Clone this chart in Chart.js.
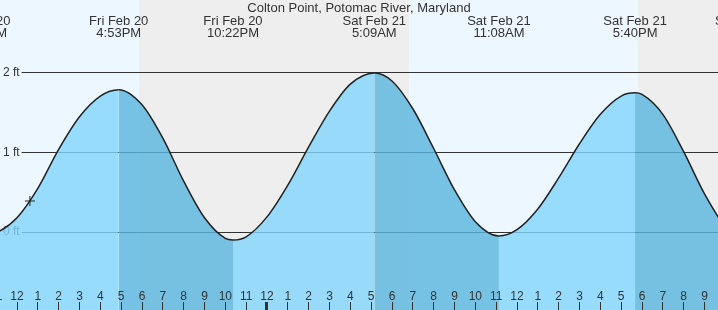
<!DOCTYPE html>
<html><head><meta charset="utf-8">
<script src="https://cdn.jsdelivr.net/npm/chart.js@4"></script>
<style>html,body{margin:0;padding:0;background:#EDF7FF}canvas{display:block}</style>
</head><body>
<canvas id="c" width="718" height="310"></canvas>
<script>
// Hours counted from Fri Feb 20 00:00
const chartTitle = 'Colton Point, Potomac River, Maryland';
const tideHours = [10.27, 11, 12, 13, 14, 15, 16, 16.883, 18, 19, 20, 21, 22, 22.367, 23, 24, 25, 26, 27, 28, 29.15, 30, 31, 32, 33, 34, 35.133, 36, 37, 38, 39, 40, 41, 41.667, 42, 43, 44, 45, 46, 47.033];
const tideFeet  = [-0.05, -0.01, 0.18, 0.55, 1.04, 1.45, 1.71, 1.79, 1.60, 1.18, 0.64, 0.18, -0.08, -0.10, -0.06, 0.19, 0.59, 1.07, 1.52, 1.86, 2.00, 1.90, 1.55, 1.05, 0.53, 0.13, -0.05, 0.03, 0.29, 0.68, 1.11, 1.48, 1.71, 1.75, 1.73, 1.48, 1.01, 0.48, 0.07, -0.10];

const extremeHours = [10.27, 16.883, 22.367, 29.15, 35.133, 41.667, 47.033];
const extremeDates = ['Fri Feb 20', 'Fri Feb 20', 'Fri Feb 20', 'Sat Feb 21', 'Sat Feb 21', 'Sat Feb 21', 'Sat Feb 21'];
const extremeTimes = ['10:16AM', '4:53PM', '10:22PM', '5:09AM', '11:08AM', '5:40PM', '11:02PM'];

const hourTicks = [11, 12, 13, 14, 15, 16, 17, 18, 19, 20, 21, 22, 23, 24, 25, 26, 27, 28, 29, 30, 31, 32, 33, 34, 35, 36, 37, 38, 39, 40, 41, 42, 43, 44, 45, 46];
const hourTickLabels = ['11', '12', '1', '2', '3', '4', '5', '6', '7', '8', '9', '10', '11', '12', '1', '2', '3', '4', '5', '6', '7', '8', '9', '10', '11', '12', '1', '2', '3', '4', '5', '6', '7', '8', '9', '10'];

const yTicks = [0, 1, 2];
const yTickLabels = ['0 ft', '1 ft', '2 ft'];

const nightStart = [17.856, 41.808];
const nightEnd = [30.816, 48];

const nowHour = [12.62];
const nowFeet = [0.39];

const xMin = 11.184, xMax = 45.648;
const yMin = -0.981, yMax = 2.918;
const hourAxisAt = -0.8805;

const FONT = "'Liberation Sans', Arial, sans-serif";
const TEXT = '#333';
const riseFill = 'rgba(129,212,252,0.8)';
const fallFill = 'rgba(87,180,221,0.8)';
const dayBg = '#EDF7FF';
const nightBg = '#EEEEEE';

const dayNight = {
  id: 'dayNight',
  beforeDraw(chart) {
    const {ctx, scales: {x}} = chart;
    ctx.save();
    ctx.fillStyle = dayBg;
    ctx.fillRect(0, 0, chart.width, chart.height);
    ctx.fillStyle = nightBg;
    nightStart.forEach((s, i) => {
      const x0 = Math.round(x.getPixelForValue(s));
      const x1 = Math.round(x.getPixelForValue(nightEnd[i]));
      ctx.fillRect(x0, 0, x1 - x0, chart.height);
    });
    ctx.restore();
  }
};

const noPad = s => { s.paddingLeft = 0; s.paddingRight = 0; s.paddingTop = 0; s.paddingBottom = 0; };

new Chart(document.getElementById('c'), {
  type: 'line',
  data: {
    datasets: [
      {
        data: nowHour.map((h, i) => ({x: h, y: nowFeet[i]})),
        showLine: false, pointStyle: 'cross', pointRadius: 5, pointBorderWidth: 1,
        borderColor: '#222', backgroundColor: '#222', order: 0
      },
      {
        data: tideHours.map((h, i) => ({x: h, y: tideFeet[i]})),
        borderColor: '#222', borderWidth: 1.5, pointRadius: 0,
        fill: 'start', backgroundColor: riseFill,
        cubicInterpolationMode: 'monotone',
        segment: { backgroundColor: c => (c.p1.parsed.y < c.p0.parsed.y ? fallFill : riseFill) },
        order: 1
      }
    ]
  },
  options: {
    responsive: false, animation: false, devicePixelRatio: 1,
    layout: { padding: 0, autoPadding: false },
    plugins: {
      legend: { display: false },
      tooltip: { enabled: false },
      title: {
        display: true, text: chartTitle, color: TEXT,
        font: { family: FONT, size: 13, weight: 'normal', lineHeight: '16px' },
        padding: { top: 0, bottom: -16 }
      }
    },
    scales: {
      x: {
        type: 'linear', min: xMin, max: xMax, bounds: 'data',
        position: { y: hourAxisAt },
        afterBuildTicks: s => { s.ticks = hourTicks.map(v => ({value: v})); },
        afterFit: noPad,
        grid: {
          display: true, drawOnChartArea: false, drawTicks: true, tickLength: 8,
          color: TEXT, lineWidth: c => (c.tick && c.tick.value === 24 ? 3 : 1), z: 1
        },
        border: { display: false },
        ticks: {
          autoSkip: false, maxRotation: 0, minRotation: 0, padding: -20.7, color: TEXT, z: 1,
          font: { family: FONT, size: 12 },
          callback: (v, i) => hourTickLabels[i]
        }
      },
      x2: {
        type: 'linear', axis: 'x', min: xMin, max: xMax, bounds: 'data',
        position: { y: yMax },
        afterBuildTicks: s => { s.ticks = extremeHours.map(v => ({value: v})); },
        afterFit: noPad,
        grid: { display: false, drawTicks: false, tickLength: 0 },
        border: { display: false },
        ticks: {
          autoSkip: false, maxRotation: 0, minRotation: 0, padding: 15, color: TEXT, z: 1,
          font: { family: FONT, size: 13, lineHeight: '12px' },
          callback: (v, i) => [extremeDates[i], extremeTimes[i]]
        }
      },
      y: {
        type: 'linear', min: yMin, max: yMax, position: 'left',
        afterBuildTicks: s => { s.ticks = yTicks.map(v => ({value: v})); },
        afterFit: s => { noPad(s); s.width = 0; },
        grid: { color: TEXT, lineWidth: 1, drawTicks: false, z: -1 },
        border: { display: false },
        ticks: {
          mirror: true, padding: 3, color: TEXT,
          font: { family: FONT, size: 12 },
          showLabelBackdrop: true, backdropColor: dayBg,
          backdropPadding: { left: 3, right: 2, top: 0, bottom: 0 },
          callback: (v, i) => yTickLabels[i]
        }
      }
    }
  },
  plugins: [dayNight]
});
</script>
</body></html>
